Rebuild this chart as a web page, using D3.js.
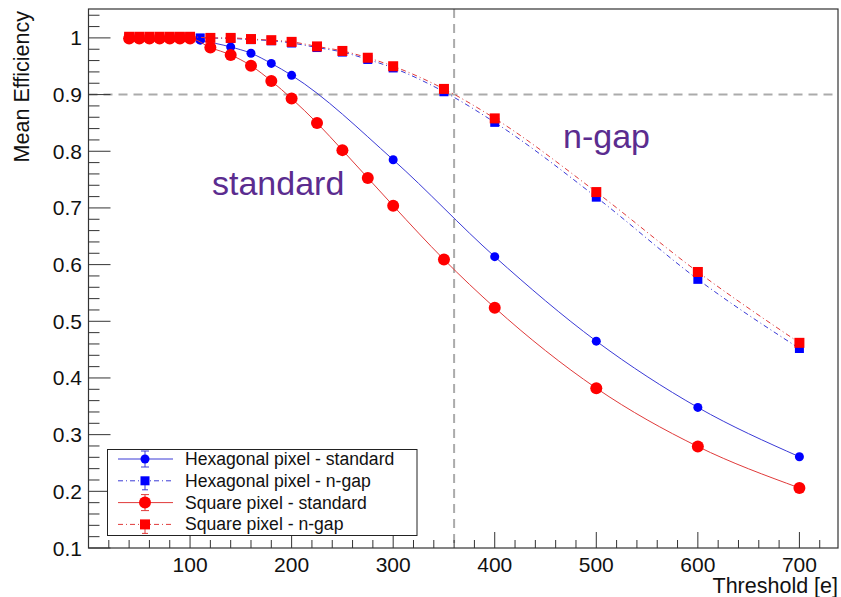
<!DOCTYPE html>
<meta charset="utf-8">
<script src="https://d3js.org/d3.v7.min.js"></script>
<style>
  body { margin: 0; background: #fff; }
  text { font-family: "Liberation Sans", Arial, Helvetica, sans-serif; }
</style>
<div id="my_dataviz"></div>
<script>

// thresholds [e] and mean efficiencies
var hexStdX   = [40, 50, 60, 70, 80, 90, 100, 110, 140, 160, 180, 200, 300, 400, 500, 600, 700];
var hexStdY   = [1.0, 1.0, 1.0, 1.0, 1.0, 1.0, 1.0, 0.996, 0.984, 0.973, 0.955, 0.934, 0.785, 0.614, 0.465, 0.348, 0.261];

var hexGapX   = [40, 50, 60, 70, 80, 90, 100, 110, 140, 160, 180, 200, 225, 250, 275, 300, 350, 400, 500, 600, 700];
var hexGapY   = [1.001, 1.001, 1.001, 1.001, 1.001, 1.001, 1.001, 1.0, 0.999, 0.997, 0.995, 0.991, 0.983, 0.975, 0.962, 0.947, 0.905, 0.851, 0.719, 0.574, 0.452];

var sqStdX    = [40, 50, 60, 70, 80, 90, 100, 120, 140, 160, 180, 200, 225, 250, 275, 300, 350, 400, 500, 600, 700];
var sqStdY    = [0.999, 0.999, 0.999, 0.999, 0.999, 0.999, 0.999, 0.983, 0.970, 0.951, 0.924, 0.893, 0.850, 0.802, 0.753, 0.704, 0.609, 0.524, 0.382, 0.279, 0.206];

var sqGapX    = [40, 50, 60, 70, 80, 90, 100, 120, 140, 160, 180, 200, 225, 250, 275, 300, 350, 400, 500, 600, 700];
var sqGapY    = [1.002, 1.002, 1.002, 1.002, 1.002, 1.002, 1.002, 1.0, 1.0, 0.998, 0.996, 0.993, 0.985, 0.977, 0.965, 0.950, 0.910, 0.858, 0.728, 0.587, 0.462];

var xTicks = [100, 200, 300, 400, 500, 600, 700];
var yTicks = [0.1, 0.2, 0.3, 0.4, 0.5, 0.6, 0.7, 0.8, 0.9, 1];
var legendLabels = ["Hexagonal pixel - standard", "Hexagonal pixel - n-gap", "Square pixel - standard", "Square pixel - n-gap"];
var cutX = 360, cutY = 0.9;

function zip(xs, ys) { return xs.map(function(v, i) { return {x: v, y: ys[i]}; }); }

var series = [
  {name: legendLabels[0], data: zip(hexStdX, hexStdY), color: "#0000ff", line: "#3a3ad6", marker: "circle", size: 4.5, dash: null},
  {name: legendLabels[1], data: zip(hexGapX, hexGapY), color: "#0000ff", line: "#3a3ad6", marker: "square", size: 9, dash: "5,3,1,3"},
  {name: legendLabels[2], data: zip(sqStdX, sqStdY), color: "#ff0000", line: "#e03a3a", marker: "circle", size: 6, dash: null},
  {name: legendLabels[3], data: zip(sqGapX, sqGapY), color: "#ff0000", line: "#e03a3a", marker: "square", size: 10, dash: "5,3,1,3"}
];

var W = 841, H = 597;
var frameL = 88.5, frameR = 838, frameT = 9, frameB = 548;

var svg = d3.select("#my_dataviz")
  .append("svg")
    .attr("width", W)
    .attr("height", H);

var x = d3.scaleLinear().domain([0, 738]).range([frameL, frameR]);
var y = d3.scaleLinear().domain([0.1, 1.051]).range([frameB, frameT]);

// cut lines
svg.append("line")
  .attr("x1", frameL).attr("x2", frameR)
  .attr("y1", y(cutY)).attr("y2", y(cutY))
  .attr("stroke", "#ababab").attr("stroke-width", 2).attr("stroke-dasharray", "9,6");
svg.append("line")
  .attr("x1", x(cutX)).attr("x2", x(cutX))
  .attr("y1", frameT).attr("y2", frameB)
  .attr("stroke", "#ababab").attr("stroke-width", 2).attr("stroke-dasharray", "9,6");

// curves and markers
var line = d3.line()
  .x(function(d) { return x(d.x); })
  .y(function(d) { return y(d.y); })
  .curve(d3.curveMonotoneX);

function drawMarker(g, s, cx, cy) {
  if (s.marker == "circle") {
    g.append("circle").attr("cx", cx).attr("cy", cy).attr("r", s.size).attr("fill", s.color);
  } else {
    g.append("rect")
      .attr("x", cx - s.size / 2).attr("y", cy - s.size / 2)
      .attr("width", s.size).attr("height", s.size)
      .attr("fill", s.color);
  }
}

series.forEach(function(s) {
  var g = svg.append("g");
  g.append("path")
    .datum(s.data)
    .attr("d", line)
    .attr("fill", "none")
    .attr("stroke", s.line)
    .attr("stroke-width", 1)
    .attr("stroke-dasharray", s.dash);
  s.data.forEach(function(d) { drawMarker(g, s, x(d.x), y(d.y)); });
});

// frame
svg.append("rect")
  .attr("x", frameL).attr("y", frameT)
  .attr("width", frameR - frameL).attr("height", frameB - frameT)
  .attr("fill", "none").attr("stroke", "#333").attr("stroke-width", 1.2);

// x axis ticks (inside, pointing up)
var xAxis = svg.append("g");
d3.range(0, 740, 20).forEach(function(v) {
  var major = v % 100 == 0;
  xAxis.append("line")
    .attr("x1", x(v)).attr("x2", x(v))
    .attr("y1", frameB).attr("y2", frameB - (major ? 16 : 8))
    .attr("stroke", "#333").attr("stroke-width", 1);
});
xAxis.selectAll("text.tick")
  .data(xTicks)
  .enter().append("text")
    .attr("x", function(d) { return x(d); })
    .attr("y", 572)
    .attr("text-anchor", "middle")
    .attr("font-size", 21)
    .attr("fill", "#111")
    .text(function(d) { return d; });
xAxis.append("text")
  .attr("x", 838).attr("y", 593)
  .attr("text-anchor", "end")
  .attr("font-size", 21.5)
  .attr("fill", "#111")
  .text("Threshold [e]");

// y axis ticks (inside, pointing right)
var yAxis = svg.append("g");
d3.range(0, 48).forEach(function(i) {
  var v = 0.1 + i * 0.02;
  if (v > 1.051) return;
  var major = i % 5 == 0;
  yAxis.append("line")
    .attr("x1", frameL).attr("x2", frameL + (major ? 22 : 11))
    .attr("y1", y(v)).attr("y2", y(v))
    .attr("stroke", "#333").attr("stroke-width", 1);
});
yAxis.selectAll("text.tick")
  .data(yTicks)
  .enter().append("text")
    .attr("x", 82)
    .attr("y", function(d) { return y(d) + 7.5; })
    .attr("text-anchor", "end")
    .attr("font-size", 21)
    .attr("fill", "#111")
    .text(function(d) { return d; });
yAxis.append("text")
  .attr("transform", "translate(29,11) rotate(-90)")
  .attr("text-anchor", "end")
  .attr("font-size", 21.5)
  .attr("fill", "#111")
  .text("Mean Efficiency");

// annotations
svg.append("text")
  .attr("x", 212).attr("y", 195)
  .attr("font-size", 34)
  .attr("fill", "#5b2c8f")
  .text("standard");
svg.append("text")
  .attr("x", 563).attr("y", 148)
  .attr("font-size", 34)
  .attr("fill", "#5b2c8f")
  .text("n-gap");

// legend
var legend = svg.append("g");
legend.append("rect")
  .attr("x", 107.5).attr("y", 449.5)
  .attr("width", 309.5).attr("height", 86)
  .attr("fill", "#fff").attr("stroke", "#222").attr("stroke-width", 1);

series.forEach(function(s, i) {
  var cy = 459 + i * 21.8;
  var row = legend.append("g");
  row.append("line")
    .attr("x1", 118).attr("x2", 173)
    .attr("y1", cy).attr("y2", cy)
    .attr("stroke", s.line).attr("stroke-width", 1)
    .attr("stroke-dasharray", s.dash);
  if (s.marker == "circle") {
    row.append("line").attr("x1", 145).attr("x2", 145).attr("y1", cy - 8).attr("y2", cy + 8)
      .attr("stroke", s.line).attr("stroke-width", 1);
    [cy - 8, cy + 8].forEach(function(yy) {
      row.append("line").attr("x1", 141).attr("x2", 149).attr("y1", yy).attr("y2", yy)
        .attr("stroke", s.line).attr("stroke-width", 1);
    });
  } else {
    row.append("line").attr("x1", 145).attr("x2", 145).attr("y1", cy).attr("y2", cy + 9)
      .attr("stroke", s.line).attr("stroke-width", 1);
    row.append("line").attr("x1", 142).attr("x2", 148).attr("y1", cy + 9).attr("y2", cy + 9)
      .attr("stroke", s.line).attr("stroke-width", 1);
  }
  drawMarker(row, s, 145, cy);
  row.append("text")
    .attr("x", 185).attr("y", cy + 6)
    .attr("font-size", 17.6)
    .attr("fill", "#111")
    .text(s.name);
});

</script>
